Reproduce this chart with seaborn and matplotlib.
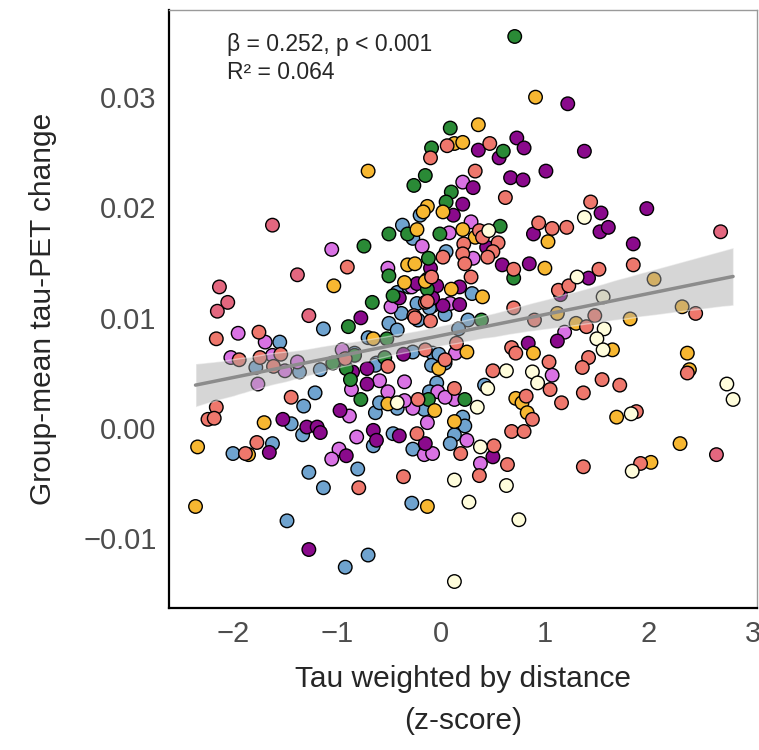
import pandas as pd
import matplotlib
matplotlib.use("Agg")
import matplotlib.pyplot as plt
import seaborn as sns

sns.set_style("white")
plt.rcParams['font.family'] = ['Liberation Sans', 'DejaVu Sans']

# points per group (x = tau weighted by distance z-score, y = group-mean tau-PET change)
blue_pts = [(-0.20, 0.0193), (-0.37, 0.0184), (-0.27, 0.0172), (0.05, 0.0160), (-0.23, 0.0113), (-0.08, 0.0111),
            (-0.42, 0.0123), (-0.38, 0.0104), (0.30, 0.0122), (0.26, 0.0098), (0.17, 0.0090), (0.42, 0.0039),
            (0.21, 0.0010), (0.23, 0.0002), (0.13, -0.0006), (0.09, -0.0014), (-0.31, 0.0128), (-0.11, 0.0109),
            (-0.50, 0.0095), (-0.42, 0.0089), (-0.22, 0.0098), (0.04, 0.0103), (-0.70, 0.0082), (-0.27, 0.0069),
            (-0.08, 0.0068), (-0.62, 0.0059), (-1.13, 0.0090), (-1.55, 0.0078), (-1.78, 0.0055), (-1.36, 0.0051),
            (-1.16, 0.0053), (-0.83, 0.0068), (-0.63, 0.0057), (-1.21, 0.0032), (-1.32, 0.0020), (-1.44, 0.0004),
            (-1.33, -0.0006), (-0.63, 0.0014), (-0.42, 0.0018), (-0.02, 0.0067), (0.04, 0.0059), (-0.09, 0.0057),
            (-0.04, 0.0041), (-0.11, 0.0033), (-0.16, 0.0017), (-0.59, 0.0023), (-1.62, -0.0014), (-2.00, -0.0023),
            (-0.65, -0.0016), (-0.46, -0.0005), (-0.27, -0.0019), (-1.27, -0.0040), (-0.80, -0.0037),
            (-1.13, -0.0054), (-0.28, -0.0068), (-1.48, -0.0084), (-0.70, -0.0115), (-0.92, -0.0126)]

violet_pts = [(-1.05, 0.0162), (-0.18, 0.0165), (0.08, 0.0177), (-0.51, 0.0145), (-0.28, 0.0128), (-0.48, 0.0110),
              (0.09, 0.0113), (0.21, 0.0223), (0.29, 0.0187), (0.31, 0.0154), (1.19, 0.0087), (0.14, 0.0068),
              (1.07, 0.0048), (0.13, 0.0026), (0.25, -0.0011), (0.38, -0.0032), (-1.95, 0.0086), (-1.69, 0.0078),
              (-2.02, 0.0064), (-1.62, 0.0066), (-1.50, 0.0052), (-1.38, 0.0060), (-0.95, 0.0071), (-0.86, 0.0035),
              (-0.59, 0.0043), (-0.51, 0.0033), (-0.35, 0.0042), (-0.27, 0.0018), (-0.35, 0.0025), (-0.03, 0.0033),
              (0.04, 0.0028), (-0.88, 0.0011), (-0.13, 0.0005), (-0.81, -0.0008), (-0.16, -0.0024),
              (-0.08, -0.0023), (-0.98, -0.0019), (-1.05, -0.0028), (-1.76, 0.0040)]

purple_pts = [(0.12, 0.0193), (-0.04, 0.0129), (-0.23, 0.0131), (-0.10, 0.0145), (0.02, 0.0111), (-0.77, 0.0100),
              (1.22, 0.0294), (1.38, 0.0251), (0.36, 0.0252), (0.56, 0.0245), (0.73, 0.0263), (0.80, 0.0254),
              (1.01, 0.0233), (0.67, 0.0227), (0.79, 0.0225), (0.31, 0.0218), (0.21, 0.0203), (1.54, 0.0195),
              (1.98, 0.0199), (0.89, 0.0176), (1.53, 0.0178), (1.61, 0.0182), (1.85, 0.0167), (0.44, 0.0164),
              (0.59, 0.0148), (0.85, 0.0149), (1.42, 0.0136), (1.15, 0.0121), (0.18, 0.0128), (0.18, 0.0112),
              (1.12, 0.0079), (0.84, 0.0077), (0.50, -0.0026), (-0.40, 0.0118), (-0.08, 0.0118), (-0.85, 0.0051),
              (-0.71, 0.0054), (-0.71, 0.0040), (-0.97, 0.0016), (-0.36, 0.0067), (-1.52, 0.0008), (-1.29, 0.0001),
              (-1.19, 0.0001), (-1.16, -0.0004), (-1.65, -0.0022), (-0.65, -0.0002), (-0.62, -0.0011),
              (-0.40, -0.0007), (-0.15, -0.0014), (-0.91, -0.0025), (-1.27, -0.0110)]

green_pts = [(0.71, 0.0355), (0.09, 0.0272), (-0.09, 0.0254), (-0.15, 0.0229), (-0.26, 0.0220), (0.10, 0.0214),
             (0.05, 0.0205), (-0.50, 0.0176), (-0.32, 0.0176), (-0.01, 0.0176), (-0.12, 0.0154), (-0.50, 0.0138),
             (-0.74, 0.0165), (-0.66, 0.0114), (-0.13, 0.0135), (-0.46, 0.0120), (-0.13, 0.0126), (0.60, 0.0251),
             (0.57, 0.0183), (0.70, 0.0136), (-0.89, 0.0092), (-0.91, 0.0054), (-0.87, 0.0044), (-0.77, 0.0026),
             (-0.12, 0.0026), (0.23, 0.0026), (-0.52, 0.0081), (-0.54, 0.0064), (0.39, 0.0098), (-1.04, 0.0059),
             (-0.83, 0.0066)]

yellow_pts = [(-0.70, 0.0233), (-1.03, 0.0129), (0.13, 0.0258), (0.21, 0.0259), (0.36, 0.0275), (0.91, 0.0300),
              (-0.13, 0.0201), (-0.17, 0.0196), (0.02, 0.0196), (-0.23, 0.0180), (-0.32, 0.0148), (-0.25, 0.0149),
              (-0.35, 0.0132), (-0.15, 0.0133), (0.10, 0.0126), (0.21, 0.0180), (0.33, 0.0173), (1.03, 0.0169),
              (1.00, 0.0145), (0.40, 0.0119), (2.05, 0.0135), (2.32, 0.0110), (1.12, 0.0104), (1.82, 0.0099),
              (1.30, 0.0095), (0.25, 0.0069), (0.89, 0.0068), (1.65, 0.0071), (2.37, 0.0068), (2.39, 0.0053),
              (0.72, 0.0027), (0.78, 0.0023), (0.83, 0.0014), (1.69, 0.0010), (0.13, 0.0006), (2.30, -0.0014),
              (2.02, -0.0031), (-0.65, 0.0081), (-0.51, 0.0022), (-0.06, 0.0016), (-0.02, 0.0054),
              (-2.34, -0.0017), (-1.85, -0.0024), (-1.70, 0.0005), (-2.36, -0.0071), (-0.13, -0.0071)]

salmon_pts = [(-0.90, 0.0146), (0.06, 0.0256), (-0.10, 0.0245), (0.02, 0.0155), (-0.09, 0.0137), (-0.15, 0.0114),
              (-0.26, 0.0102), (0.47, 0.0258), (0.33, 0.0233), (0.62, 0.0209), (1.44, 0.0205), (0.94, 0.0186),
              (1.07, 0.0181), (1.21, 0.0182), (0.37, 0.0179), (0.40, 0.0173), (0.55, 0.0168), (0.22, 0.0167),
              (0.50, 0.0160), (0.21, 0.0158), (0.45, 0.0155), (0.23, 0.0149), (1.85, 0.0148), (0.70, 0.0144),
              (0.29, 0.0137), (1.52, 0.0144), (1.13, 0.0125), (1.23, 0.0129), (0.70, 0.0109), (2.45, 0.0104),
              (0.90, 0.0098), (1.48, 0.0102), (1.40, 0.0092), (0.15, 0.0077), (0.68, 0.0073), (0.72, 0.0068),
              (1.04, 0.0060), (1.42, 0.0064), (1.36, 0.0055), (0.50, 0.0052), (2.37, 0.0050), (1.55, 0.0044),
              (1.72, 0.0039), (0.13, 0.0036), (1.05, 0.0035), (1.37, 0.0032), (0.82, 0.0029), (1.16, 0.0023),
              (0.88, 0.0008), (1.88, 0.0015), (0.68, -0.0003), (0.80, -0.0003), (0.51, -0.0016), (0.19, -0.0023),
              (0.37, -0.0043), (0.64, -0.0033), (1.37, -0.0035), (1.92, -0.0032), (-2.16, 0.0081), (-1.75, 0.0087),
              (-1.94, 0.0062), (-1.74, 0.0064), (-1.54, 0.0067), (-1.61, 0.0056), (-0.51, 0.0056), (-1.44, 0.0028),
              (-2.16, 0.0019), (-2.24, 0.0008), (-2.18, 0.0009), (-1.77, -0.0013), (-1.88, -0.0023),
              (-0.23, -0.0005), (-0.36, -0.0044), (-0.79, -0.0054), (-0.22, 0.0026), (-0.15, 0.0071),
              (-0.25, 0.0100), (-0.13, 0.0115), (-0.10, 0.0097), (-0.92, 0.0063), (0.04, 0.0062)]

pink_pts = [(-1.62, 0.0184), (-1.38, 0.0139), (-2.13, 0.0128), (-2.05, 0.0114), (-2.15, 0.0106), (-1.27, 0.0102),
            (2.69, 0.0178), (2.65, -0.0024)]

cream_pts = [(0.46, 0.0179), (1.38, 0.0191), (1.31, 0.0137), (1.56, 0.0119), (1.57, 0.0090), (1.50, 0.0081),
             (1.56, 0.0071), (0.63, 0.0052), (0.88, 0.0051), (0.93, 0.0041), (0.45, 0.0036), (2.75, 0.0040),
             (2.81, 0.0026), (0.35, 0.0019), (1.83, 0.0013), (0.38, -0.0017), (1.84, -0.0039), (0.13, -0.0047),
             (0.63, -0.0052), (0.27, -0.0067), (0.75, -0.0083), (0.13, -0.0139), (-0.42, 0.0023)]

palette = {'blue': '#6FA3CF', 'violet': '#D972E4', 'purple': '#8A0A8C', 'green': '#2A8A36',
           'yellow': '#F7B731', 'salmon': '#EE776C', 'pink': '#E3677F', 'cream': '#FFFDDC'}

rows = []
for name, pts in [('blue', blue_pts), ('violet', violet_pts), ('purple', purple_pts), ('green', green_pts),
                  ('yellow', yellow_pts), ('salmon', salmon_pts), ('pink', pink_pts), ('cream', cream_pts)]:
    for x, y in pts:
        rows.append({'x': x, 'y': y, 'group': name})
df = pd.DataFrame(rows)

fig = plt.figure(figsize=(7.59, 7.5), dpi=100)
ax = fig.add_axes([169 / 759, 1 - 608 / 750, 588 / 759, 598 / 750])

sns.scatterplot(data=df, x='x', y='y', hue='group', palette=palette, s=95, edgecolor='black',
                linewidth=1.0, legend=False, ax=ax, zorder=2)
sns.regplot(data=df, x='x', y='y', scatter=False, ax=ax, color='#8c8c8c', seed=1,
            line_kws={'lw': 2.5, 'zorder': 4})
band = ax.collections[-1]
band.set_facecolor('#a6a6a6')
band.set_alpha(0.45)
band.set_zorder(3)

ax.set_xlim(-2.615, 3.04)
ax.set_ylim(-0.0163, 0.0379)
ax.set_xticks([-2, -1, 0, 1, 2, 3])
ax.set_xticklabels(['\u22122', '\u22121', '0', '1', '2', '3'])
ax.set_yticks([-0.01, 0.0, 0.01, 0.02, 0.03])
ax.set_yticklabels(['\u22120.01', '0.00', '0.01', '0.02', '0.03'])
ax.tick_params(axis='both', length=5, width=1.2, labelsize=21, labelcolor='#4d4d4d', pad=4)

for side in ['left', 'bottom']:
    ax.spines[side].set_color('black')
    ax.spines[side].set_linewidth(1.6)
for side in ['top', 'right']:
    ax.spines[side].set_color('#9a9a9a')
    ax.spines[side].set_linewidth(1.0)

ax.set_ylabel('Group-mean tau-PET change', fontsize=21.5, labelpad=19)
ax.set_xlabel('Tau weighted by distance\n(z-score)', fontsize=21.5, labelpad=12, linespacing=1.65)

ax.text(0.099, 0.9415, '\u03b2 = 0.252, p < 0.001', transform=ax.transAxes, fontsize=16.5, va='center')
ax.text(0.099, 0.896, 'R\u00b2 = 0.064', transform=ax.transAxes, fontsize=16.5, va='center')

fig.savefig('out.png', dpi=100)
